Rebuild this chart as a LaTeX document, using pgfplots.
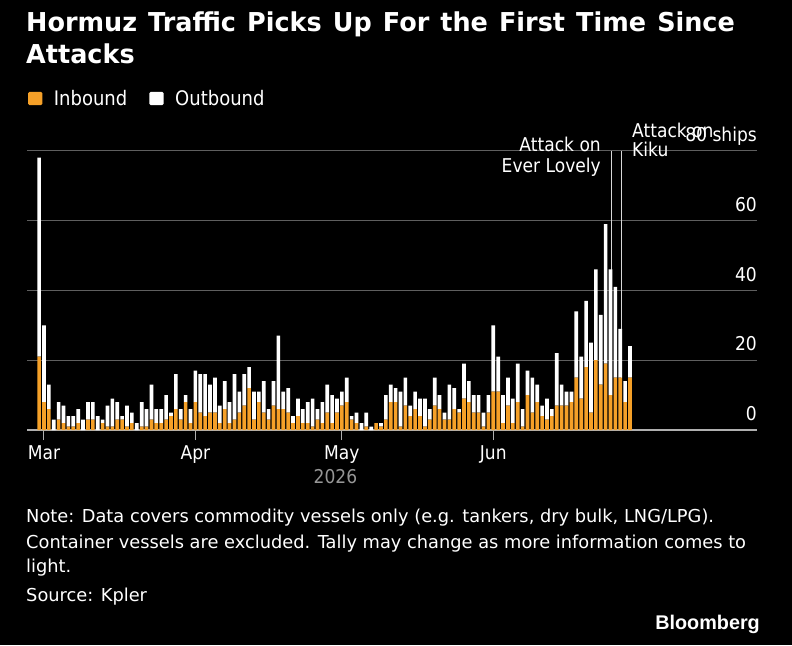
\documentclass[border=0pt]{standalone}
\usepackage{pgfplots}
\pgfplotsset{compat=1.18}
\usepackage{pgfplotstable}
\usepackage{fontspec}
\setmainfont{DejaVu Sans}
\newfontfamily\lab{DejaVu Sans}[FakeStretch=0.9]
\newfontfamily\ttl{DejaVu Sans}[FakeStretch=0.98,WordSpace=1.25]
\newfontfamily\bbg{Liberation Sans}
\definecolor{bbOrange}{RGB}{245,160,40}
\definecolor{gridc}{RGB}{95,95,95}
\definecolor{axisc}{RGB}{175,175,175}
\definecolor{yearc}{RGB}{150,150,150}
\definecolor{annc}{RGB}{215,215,215}

% d = days since 1 Mar 2026 ; in = inbound ; out = outbound
\pgfplotstableread{
d in out
-1 21 57
0 8 22
1 6 7
2 0 3
3 3 5
4 2 5
5 1 3
6 1 3
7 2 4
8 0 3
9 3 5
10 3 5
11 0 4
12 2 1
13 1 6
14 1 8
15 3 5
16 3 1
17 1 6
18 2 3
19 0 2
20 1 7
21 1 5
22 3 10
23 2 4
24 2 4
25 3 7
26 4 1
27 6 10
28 3 3
29 8 2
30 2 4
31 8 9
32 5 11
33 4 12
34 5 8
35 5 10
36 2 5
37 6 8
38 2 6
39 3 13
40 5 6
41 7 9
42 12 6
43 3 8
44 8 3
45 5 9
46 3 3
47 7 7
48 6 21
49 6 5
50 5 7
51 2 2
52 4 5
53 2 4
54 2 6
55 1 8
56 3 3
57 2 6
58 5 8
59 2 8
60 5 4
61 7 4
62 8 7
63 3 1
64 2 3
65 0 2
66 1 4
67 0 1
68 2 0
69 1 1
70 3 7
71 8 5
72 8 4
73 1 10
74 7 8
75 4 3
76 6 5
77 4 5
78 1 8
79 3 3
80 7 8
81 6 4
82 3 2
83 3 10
84 6 6
85 5 1
86 9 10
87 8 6
88 5 5
89 5 5
90 1 4
91 5 5
92 11 19
93 11 10
94 2 8
95 7 8
96 2 7
97 8 11
98 1 5
99 10 7
100 5 10
101 8 5
102 4 3
103 3 6
104 4 2
105 7 15
106 7 6
107 7 4
108 8 3
109 15 19
110 9 12
111 18 19
112 5 20
113 20 26
114 13 20
115 19 40
116 10 36
117 15 26
118 15 14
119 8 6
120 15 9
}\traffic

\begin{document}
\begin{tikzpicture}
\fill[black] (0pt,0pt) rectangle (792pt,-645pt);
\useasboundingbox (0pt,0pt) rectangle (792pt,-645pt);
\begin{axis}[
  at={(27pt,-430pt)}, anchor=south west,
  scale only axis, width=730pt, height=279.3pt,
  xmin=-3.48, xmax=146, ymin=0, ymax=80,
  ybar stacked, bar width=0.75,
  axis x line*=bottom, axis y line*=right,
  x axis line style={draw=axisc, line width=1.3pt},
  y axis line style={draw=none},
  tick align=outside, major tick length=10pt,
  xtick={0,31,61,92}, xticklabels={Mar,Apr,May,Jun},
  xtick style={draw=axisc, line width=1pt},
  ytick={0,20,40,60,80}, yticklabels={0,20,40,60,80 ships},
  ytick style={draw=none},
  ymajorgrids, grid style={draw=gridc, line width=0.9pt},
  /pgf/number format/assume math mode=true,
  xticklabel style={anchor=base, inner sep=0pt, yshift=-19.3pt, text=white, font=\lab\fontsize{19}{22}\selectfont},
  yticklabel style={anchor=base east, inner sep=0pt, xshift=-10pt, yshift=9.3pt, text=white, font=\lab\fontsize{19}{22}\selectfont},
  legend columns=2, legend cell align=left,
  legend style={at={(axis description cs:0.00137,1.1869)}, anchor=west, draw=none, fill=none,
    inner sep=0pt, outer sep=0pt, text=white, font=\lab\fontsize{20}{22}\selectfont,
    nodes={inner sep=0pt},
    /tikz/every odd column/.append style={column sep=11.5pt},
    /tikz/every even column/.append style={column sep=22pt}},
  legend image code/.code={\fill[#1, draw=none, rounded corners=1.5pt] (0pt,-6.7pt) rectangle (14.4pt,6.7pt);},
]
\addplot[fill=bbOrange, draw=none] table[x=d,y=in]{\traffic};
\addlegendentry{Inbound}
\addplot[fill=white, draw=none] table[x=d,y=out]{\traffic};
\addlegendentry{Outbound}
\draw[annc, line width=1.1pt] (axis cs:116.2,0) -- (axis cs:116.2,80);
\draw[annc, line width=1.1pt] (axis cs:118.3,0) -- (axis cs:118.3,80);
\end{axis}
% title
\node[anchor=base west, inner sep=0pt, text=white, font=\ttl\bfseries\fontsize{26}{30}\selectfont] at (26pt,-31.7pt) {Hormuz Traffic Picks Up For the First Time Since};
\node[anchor=base west, inner sep=0pt, text=white, font=\ttl\bfseries\fontsize{26}{30}\selectfont] at (26pt,-63.3pt) {Attacks};
% annotations
\node[anchor=base east, inner sep=0pt, text=white, font=\lab\fontsize{19}{22}\selectfont] at (601pt,-151.7pt) {Attack on};
\node[anchor=base east, inner sep=0pt, text=white, font=\lab\fontsize{19}{22}\selectfont] at (601pt,-172.3pt) {Ever Lovely};
\node[anchor=base west, inner sep=0pt, text=white, font=\lab\fontsize{19}{22}\selectfont] at (632pt,-137.3pt) {Attack on};
\node[anchor=base west, inner sep=0pt, text=white, font=\lab\fontsize{19}{22}\selectfont] at (632pt,-156.7pt) {Kiku};
% year
\node[anchor=base, inner sep=0pt, text=yearc, font=\lab\fontsize{19}{22}\selectfont] at (335.5pt,-483.3pt) {2026};
% notes
\node[anchor=base west, inner sep=0pt, text=white, font=\fontsize{17.8}{20}\selectfont] at (26pt,-522.7pt) {Note: Data covers commodity vessels only (e.g. tankers, dry bulk, LNG/LPG).};
\node[anchor=base west, inner sep=0pt, text=white, font=\fontsize{17.8}{20}\selectfont] at (26pt,-548.3pt) {Container vessels are excluded. Tally may change as more information comes to};
\node[anchor=base west, inner sep=0pt, text=white, font=\fontsize{17.8}{20}\selectfont] at (26pt,-572.7pt) {light.};
\node[anchor=base west, inner sep=0pt, text=white, font=\fontsize{17.8}{20}\selectfont] at (26pt,-601.7pt) {Source: Kpler};
\node[anchor=base east, inner sep=0pt, text=white, font=\bbg\bfseries\fontsize{19.8}{22}\selectfont] at (760pt,-629.3pt) {Bloomberg};
\end{tikzpicture}
\end{document}
